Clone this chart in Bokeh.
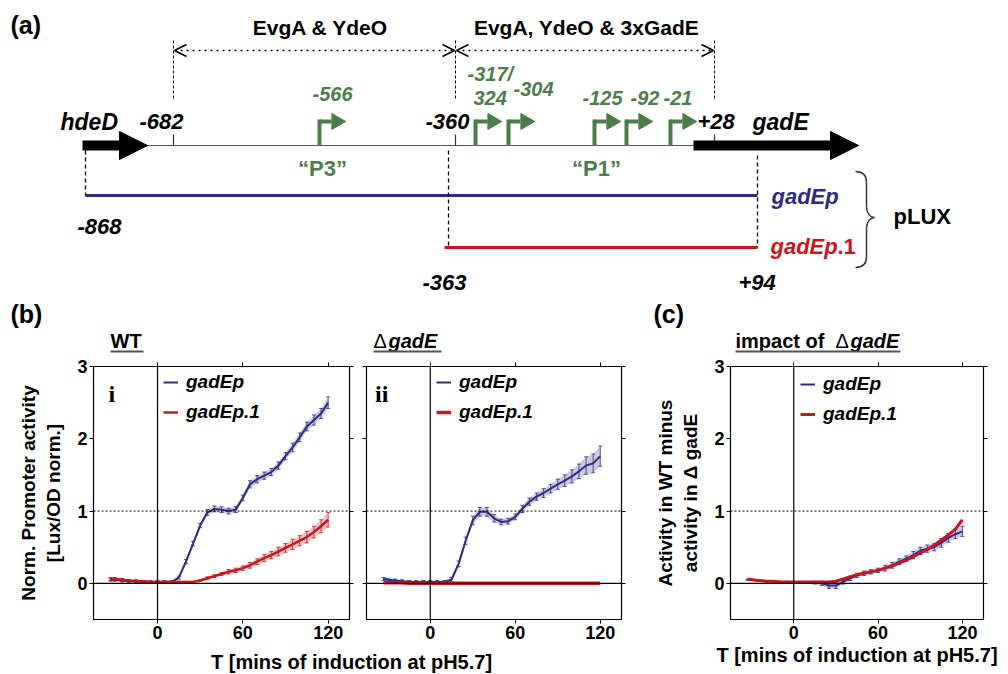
import numpy as np
from bokeh.plotting import figure
from bokeh.models import (Range1d, Span, Arrow, OpenHead, NormalHead, Legend, LegendItem,
                          LinearAxis, FixedTicker, Whisker, TeeHead, ColumnDataSource)
from bokeh.layouts import column, row
from bokeh.embed import file_html
from bokeh.resources import INLINE
from bokeh.core.properties import value

BLUE = "#2f2a82"
RED = "#c8161e"
GREEN = "#4d7c4a"
FONT = "Liberation Sans"

# ---------------- data ----------------
T = [-33, -30, -25, -20, -15, -10, -5, 0, 5, 10, 15, 20, 25, 30, 35, 40,
     45, 50, 55, 60, 65, 70, 75, 80, 85, 90, 95, 100, 105, 110, 115, 120]

wt_gadEp = [0.05, 0.05, 0.04, 0.03, 0.03, 0.02, 0.02, 0.02, 0.02, 0.02, 0.08, 0.30, 0.55, 0.80, 0.98, 1.03,
            1.02, 1.00, 1.02, 1.18, 1.37, 1.44, 1.49, 1.54, 1.63, 1.76, 1.88, 2.02, 2.17, 2.26, 2.35, 2.50]
wt_gadEp_err = [0.02, 0.02, 0.02, 0.02, 0.02, 0.02, 0.02, 0.02, 0.02, 0.02, 0.02, 0.03, 0.03, 0.03, 0.04, 0.04,
                0.04, 0.04, 0.04, 0.04, 0.05, 0.05, 0.05, 0.05, 0.05, 0.05, 0.06, 0.06, 0.06, 0.07, 0.07, 0.08]
wt_gadEp1 = [0.06, 0.06, 0.05, 0.04, 0.03, 0.03, 0.02, 0.02, 0.02, 0.02, 0.02, 0.02, 0.02, 0.04, 0.07, 0.10,
             0.13, 0.16, 0.18, 0.21, 0.25, 0.30, 0.35, 0.39, 0.44, 0.49, 0.54, 0.59, 0.64, 0.71, 0.79, 0.88]
wt_gadEp1_err = [0.02, 0.02, 0.02, 0.01, 0.01, 0.01, 0.01, 0.01, 0.01, 0.01, 0.01, 0.01, 0.01, 0.01, 0.02, 0.02,
                 0.02, 0.03, 0.03, 0.03, 0.04, 0.04, 0.05, 0.05, 0.06, 0.06, 0.07, 0.07, 0.08, 0.08, 0.09, 0.10]

dg_gadEp = [0.06, 0.05, 0.04, 0.03, 0.02, 0.02, 0.02, 0.02, 0.02, 0.02, 0.05, 0.27, 0.59, 0.87, 0.99, 0.99,
            0.90, 0.85, 0.86, 0.92, 1.03, 1.13, 1.20, 1.25, 1.31, 1.37, 1.42, 1.48, 1.55, 1.63, 1.66, 1.76]
dg_gadEp_err = [0.02, 0.02, 0.02, 0.02, 0.02, 0.02, 0.02, 0.02, 0.02, 0.02, 0.03, 0.04, 0.05, 0.06, 0.06, 0.06,
                0.05, 0.04, 0.04, 0.04, 0.05, 0.05, 0.05, 0.06, 0.06, 0.07, 0.08, 0.09, 0.10, 0.12, 0.13, 0.14]
dg_gadEp1 = [0.01, 0.01, 0.01, 0.01, 0.00, 0.00, 0.00, 0.00, 0.00, 0.00, 0.00, 0.00, 0.00, 0.00, 0.00, 0.00,
             0.00, 0.00, 0.00, 0.00, 0.00, 0.00, 0.00, 0.00, 0.00, 0.00, 0.00, 0.00, 0.00, 0.00, 0.00, 0.00]

imp_gadEp = [0.05, 0.05, 0.04, 0.03, 0.03, 0.02, 0.02, 0.02, 0.01, 0.01, 0.01, 0.00, -0.03, -0.03, 0.02, 0.07,
             0.11, 0.14, 0.16, 0.18, 0.21, 0.25, 0.30, 0.34, 0.39, 0.45, 0.48, 0.50, 0.56, 0.63, 0.68, 0.72]
imp_gadEp_err = [0.01, 0.01, 0.01, 0.01, 0.01, 0.01, 0.01, 0.01, 0.01, 0.01, 0.02, 0.03, 0.04, 0.04, 0.03, 0.03,
                 0.03, 0.03, 0.03, 0.03, 0.04, 0.04, 0.04, 0.04, 0.05, 0.05, 0.05, 0.05, 0.06, 0.06, 0.06, 0.07]
imp_gadEp1 = [0.06, 0.05, 0.04, 0.03, 0.03, 0.02, 0.02, 0.02, 0.02, 0.02, 0.02, 0.02, 0.02, 0.03, 0.06, 0.09,
              0.12, 0.14, 0.16, 0.18, 0.21, 0.24, 0.28, 0.32, 0.37, 0.42, 0.47, 0.53, 0.60, 0.67, 0.75, 0.88]

x_ticks = [0, 60, 120]
y_ticks = [0, 1, 2, 3]
series_names = ["gadEp", "gadEp.1"]

# diagram labels (schematic, not to scale)
pos_labels = ["-682", "-360", "+28"]
site_labels = ["-566", "-317/", "324", "-304", "-125", "-92", "-21"]
construct_ends = ["-868", "-363", "+94"]

# ---------------- layout (schematic positions in page px) -------------
TSS_X = [319, 475, 508, 594, 626, 670]
TICK_X = [173, 455, 714]


def txt(p, x, y, s, size, style="bold", color="black", align="left", font=FONT):
    p.text(x=[x], y=[y], text=[s], text_font=value(font), text_font_size=value(size),
           text_font_style=style, text_color=color, text_align=align, text_baseline="middle")


# ---------------- panel (a) + headings ----------------
TOP_H = 354
top = figure(width=1008, height=TOP_H, x_range=Range1d(0, 1008), y_range=Range1d(TOP_H, 0),
             output_backend="svg", toolbar_location=None, x_axis_type=None, y_axis_type=None,
             min_border=0)
top.outline_line_color = None
top.grid.visible = False

txt(top, 10, 24, "(a)", "25px")
txt(top, 320, 27, "EvgA & YdeO", "21px", align="center")
txt(top, 586, 27, "EvgA, YdeO & 3xGadE", "21px", align="center")

for xs, xe in [(174, 454), (456, 713)]:
    top.add_layout(Arrow(start=OpenHead(size=12, line_width=1.5), end=OpenHead(size=12, line_width=1.5),
                         x_start=xs, y_start=50, x_end=xe, y_end=50, line_dash="dotted", line_width=1.5))
top.segment(x0=TICK_X, y0=[40] * 3, x1=TICK_X, y1=[100] * 3, line_dash="3 2", line_color="black", line_width=1)

# main line
top.segment(x0=[120], y0=[145], x1=[700], y1=[145], line_color="#555555", line_width=1.2)
top.segment(x0=TICK_X, y0=[134] * 3, x1=TICK_X, y1=[145] * 3, line_color="#333333", line_width=1.2)

# genes
top.add_layout(Arrow(end=NormalHead(size=28, fill_color="black", line_color="black"),
                     x_start=82, y_start=145, x_end=147, y_end=145, line_width=10, line_color="black"))
top.add_layout(Arrow(end=NormalHead(size=28, fill_color="black", line_color="black"),
                     x_start=693, y_start=145, x_end=858, y_end=145, line_width=10, line_color="black"))

txt(top, 60, 121, "hdeD", "23px", "bold italic")
txt(top, 752, 121, "gadE", "23px", "bold italic")
for s, x in zip(pos_labels, [139, 425, 697]):
    txt(top, x, 121, s, "22px", "bold italic")

# promoters
top.segment(x0=TSS_X, y0=[145] * 6, x1=TSS_X, y1=[119] * 6, line_color=GREEN, line_width=4)
top.segment(x0=TSS_X, y0=[121] * 6, x1=[x + 12 for x in TSS_X], y1=[121] * 6, line_color=GREEN, line_width=4)
top.scatter(x=[x + 17 for x in TSS_X], y=[121] * 6, marker="triangle", angle=-np.pi / 2, size=16,
            fill_color=GREEN, line_color=GREEN)
for s, x, y in zip(site_labels, [312, 467, 473, 513, 582, 630, 663], [93, 73, 97, 88, 97, 97, 97]):
    txt(top, x, y, s, "20px", "bold italic", GREEN)
txt(top, 322, 168, "\u201cP3\u201d", "22px", "bold", GREEN, "center")
txt(top, 596, 168, "\u201cP1\u201d", "22px", "bold", GREEN, "center")

# constructs
top.segment(x0=[85], y0=[195], x1=[757], y1=[195], line_color=BLUE, line_width=3)
top.segment(x0=[444], y0=[247], x1=[757], y1=[247], line_color=RED, line_width=3)
top.segment(x0=[85, 448, 757], y0=[150, 150, 155], x1=[85, 448, 757], y1=[195, 247, 247],
            line_dash="4 3", line_color="black", line_width=1.3)
txt(top, 77, 226, construct_ends[0], "22px", "bold italic")
txt(top, 422, 282, construct_ends[1], "22px", "bold italic")
txt(top, 738, 282, construct_ends[2], "22px", "bold italic")
txt(top, 771, 196, "gadEp", "22px", "bold italic", BLUE)
txt(top, 770, 246, "gadEp", "22px", "bold italic", RED)
txt(top, 837, 246, ".1", "22px", "bold", RED)

# brace
top.bezier(x0=[855, 866, 874, 866], y0=[171, 206, 217, 256],
           x1=[866, 874, 866, 855], y1=[182, 217, 228, 267],
           cx0=[863, 866, 870, 866], cy0=[171, 213, 217, 263],
           cx1=[866, 870, 866, 863], cy1=[175, 217, 221, 267], line_color="#333333", line_width=1.5)
top.segment(x0=[866, 866], y0=[182, 228], x1=[866, 866], y1=[206, 256], line_color="#333333", line_width=1.5)
txt(top, 893, 216, "pLUX", "22px", "bold")

# section labels + headings for (b) / (c)
txt(top, 10, 313, "(b)", "25px")
txt(top, 653, 313, "(c)", "25px")
txt(top, 110, 340, "WT", "20px")
txt(top, 373, 340, "\u0394", "20px", "normal")
txt(top, 388, 340, "gadE", "20px", "bold italic")
txt(top, 735, 340, "impact of", "20px")
txt(top, 835, 340, "\u0394", "20px", "normal")
txt(top, 850, 340, "gadE", "20px", "bold italic")
top.segment(x0=[110, 373, 735], y0=[351] * 3, x1=[143, 441, 900], y1=[351] * 3, line_color="#555555", line_width=2)


# ---------------- panels (b) i, ii and (c) ----------------
def panel(width, height, left, right, bottom, ylabel=None, show_ylabels=True, xlabel=None):
    p = figure(width=width, height=height, x_range=Range1d(-45, 135), y_range=Range1d(-0.5, 3),
               output_backend="svg", toolbar_location=None,
               min_border_left=left, min_border_right=right, min_border_top=12, min_border_bottom=bottom)
    p.grid.visible = False
    p.outline_line_color = "black"
    p.outline_line_width = 1.2
    xa, ya = p.below[0], p.left[0]
    xa.ticker = FixedTicker(ticks=x_ticks)
    ya.ticker = FixedTicker(ticks=y_ticks)
    for a in (xa, ya):
        a.major_label_text_font = FONT
        a.major_label_text_font_style = "bold"
        a.major_label_text_font_size = "18px"
        a.major_label_text_color = "black"
        a.major_tick_in = 0
        a.major_tick_out = 4
        a.minor_tick_in = 0
        a.minor_tick_out = 0
        a.major_label_standoff = 2
        a.axis_line_color = "black"
        a.major_tick_line_color = "black"
        a.axis_label_text_font = FONT
        a.axis_label_text_font_style = "bold"
        a.axis_label_text_font_size = "19px"
        a.axis_label_text_color = "black"
    if not show_ylabels:
        # ticks only, no numbers (minor ticks carry no labels)
        ya.ticker = FixedTicker(ticks=[], minor_ticks=y_ticks)
        ya.minor_tick_out = 4
        ya.minor_tick_line_color = "black"
    if ylabel:
        ya.axis_label = ylabel
        ya.axis_label_standoff = 10
    if xlabel:
        xa.axis_label = xlabel
        xa.axis_label_standoff = 2
    for loc, tk in (("above", x_ticks), ("right", y_ticks)):
        ax = LinearAxis(ticker=FixedTicker(ticks=[], minor_ticks=tk),
                        major_tick_in=0, major_tick_out=0,
                        minor_tick_in=0, minor_tick_out=4, minor_tick_line_color="black",
                        axis_line_color="black")
        p.add_layout(ax, loc)
    p.add_layout(Span(location=0, dimension="width", line_color="black", line_width=1.2))
    p.add_layout(Span(location=1, dimension="width", line_color="black", line_width=1, line_dash="2 2"))
    p.add_layout(Span(location=0, dimension="height", line_color="black", line_width=1.2))
    return p


def series(p, y, err, color, width):
    if err is not None:
        lo = [a - b for a, b in zip(y, err)]
        hi = [a + b for a, b in zip(y, err)]
        src = ColumnDataSource(dict(t=T, lo=lo, hi=hi))
        p.varea(x="t", y1="lo", y2="hi", source=src, fill_color=color, fill_alpha=0.25)
        p.add_layout(Whisker(base="t", lower="lo", upper="hi", source=src, line_color=color, line_width=1,
                             line_alpha=0.8,
                             upper_head=TeeHead(size=4, line_color=color, line_alpha=0.8),
                             lower_head=TeeHead(size=4, line_color=color, line_alpha=0.8)))
    return p.line(T, y, line_color=color, line_width=width)


def legend(p, r1, r2, y):
    lg = Legend(items=[LegendItem(label=series_names[0], renderers=[r1]),
                       LegendItem(label=series_names[1], renderers=[r2])],
                location=(70, y), border_line_color=None, background_fill_alpha=0,
                label_text_font=FONT, label_text_font_style="bold italic", label_text_font_size="19px",
                label_text_color="black",
                glyph_width=15, glyph_height=20, label_height=20, spacing=8, padding=0, margin=0,
                label_standoff=8)
    p.add_layout(lg)


H_BI = 292
BOT_H = 674 - TOP_H

p1 = panel(357, H_BI, 93, 8, 27, ylabel="Norm. Promoter activity\n[Lux/OD norm.]")
b1 = series(p1, wt_gadEp, wt_gadEp_err, BLUE, 2)
r1 = series(p1, wt_gadEp1, wt_gadEp1_err, RED, 2.5)
legend(p1, b1, r1, 196)
p1.text(x=[-34.5], y=[2.62], text=["i"], text_font=value("Liberation Serif"), text_font_style="bold",
        text_font_size=value("24px"), text_baseline="middle")

p2 = panel(273, H_BI, 9, 9, 27, show_ylabels=False)
b2 = series(p2, dg_gadEp, dg_gadEp_err, BLUE, 2)
r2 = series(p2, dg_gadEp1, None, RED, 3.5)
legend(p2, b2, r2, 196)
p2.text(x=[-39], y=[2.62], text=["ii"], text_font=value("Liberation Serif"), text_font_style="bold",
        text_font_size=value("24px"), text_baseline="middle")

XL_H = BOT_H - H_BI
xlab = figure(width=630, height=XL_H, x_range=Range1d(0, 630), y_range=Range1d(0, XL_H),
              output_backend="svg", toolbar_location=None, x_axis_type=None, y_axis_type=None, min_border=0)
xlab.outline_line_color = None
xlab.grid.visible = False
xlab.text(x=[351], y=[XL_H / 2 - 1], text=["T [mins of induction at pH5.7]"], text_font=value(FONT),
          text_font_style="bold", text_font_size=value("20px"), text_align="center", text_baseline="middle")

p3 = panel(378, BOT_H, 100, 25, BOT_H - 12 - 253, ylabel="Activity in WT minus\nactivity in \u0394 gadE",
           xlabel="T [mins of induction at pH5.7]")
p3.below[0].axis_label_text_font_size = "20px"
b3 = series(p3, imp_gadEp, imp_gadEp_err, BLUE, 2)
r3 = series(p3, imp_gadEp1, None, RED, 3)
legend(p3, b3, r3, 194)

layout = column(top, row(column(row(p1, p2), xlab), p3))

open("out.html", "w").write(file_html(layout, INLINE))
